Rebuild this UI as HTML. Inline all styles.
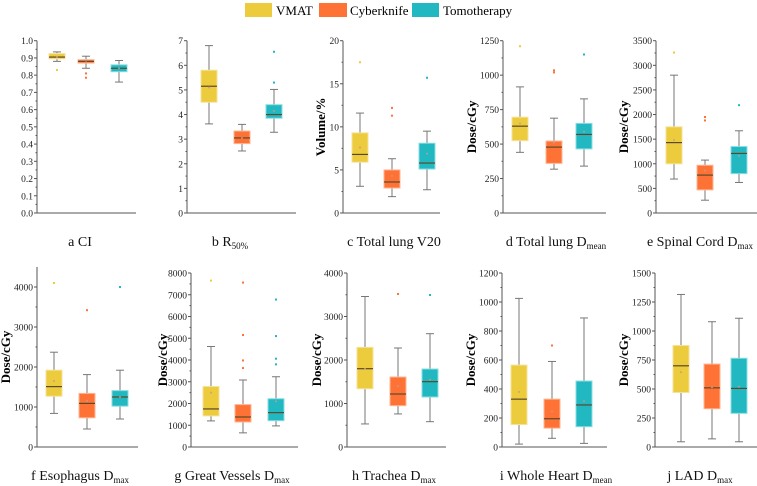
<!DOCTYPE html>
<html><head><meta charset="utf-8"><style>
html,body{margin:0;padding:0;background:#fff;}
svg{display:block;}
svg text{font-family:"Liberation Serif","Times New Roman",serif;}
</style></head><body>
<svg id="fig" width="757" height="486" viewBox="0 0 757 486" xmlns="http://www.w3.org/2000/svg" font-family="Liberation Serif, serif">
<g>
<rect x="245" y="3" width="27" height="14" fill="#ECCB3C"/>
<text x="276" y="15" font-size="13" font-family="Liberation Serif, serif">VMAT</text>
<rect x="319" y="3" width="28" height="14" fill="#FF7236"/>
<text x="350" y="15" font-size="13" font-family="Liberation Serif, serif">Cyberknife</text>
<rect x="412" y="3" width="27" height="14" fill="#22B8C2"/>
<text x="443" y="15" font-size="13" font-family="Liberation Serif, serif">Tomotherapy</text>
</g>
</svg>
<script>
// Data per panel: [q1, median, q3, whiskerLow, whiskerHigh, mean]
const vmat_a=[0.895,0.905,0.925,0.88,0.935,0.905], cyber_a=[0.87,0.88,0.89,0.84,0.91,0.875], tomo_a=[0.82,0.84,0.86,0.76,0.885,0.84];
const vmat_b=[4.5,5.15,5.8,3.62,6.8,5.1], cyber_b=[2.82,3.05,3.33,2.52,3.6,3.05], tomo_b=[3.85,4.0,4.4,3.28,5.02,4.15];
const vmat_c=[5.9,6.8,9.3,3.1,11.6,7.6], cyber_c=[2.9,3.6,5.0,1.9,6.3,4.3], tomo_c=[5.1,5.8,8.1,2.7,9.5,6.9];
const vmat_d=[525,630,695,440,915,650], cyber_d=[360,478,522,318,688,510], tomo_d=[465,570,650,340,828,590];
const vmat_e=[1000,1430,1750,690,2800,1480], cyber_e=[470,770,970,260,1075,860], tomo_e=[800,1210,1350,620,1670,1160];
const vmat_f=[1270,1510,1920,840,2370,1650], cyber_f=[730,1090,1340,450,1810,1150], tomo_f=[1020,1250,1410,700,1920,1250];
const vmat_g=[1430,1750,2780,1200,4620,2500], cyber_g=[1150,1380,1950,650,3080,2100], tomo_g=[1210,1580,2220,970,3230,2100];
const vmat_h=[1340,1800,2290,530,3460,1800], cyber_h=[950,1218,1609,760,2276,1400], tomo_h=[1149,1502,1793,582,2605,1550];
const vmat_i=[155,330,565,20,1025,380], cyber_i=[130,195,330,60,590,245], tomo_i=[140,290,455,25,890,315];
const vmat_j=[470,700,875,45,1315,645], cyber_j=[330,510,715,70,1080,515], tomo_j=[290,505,765,45,1110,520];
// Outliers
const out_a=[[0.83],[0.81,0.785],[]];
const out_b=[[],[],[5.3,6.55]];
const out_c=[[17.5],[12.2,11.3],[15.7]];
const out_d=[[1210],[1020,1035],[1150]];
const out_e=[[3260],[1880,1950],[2190]];
const out_f=[[4100],[3420],[4000]];
const out_g=[[7650],[3630,3980,5150,7560],[3800,4060,5100,6780]];
const out_h=[[],[3517],[3494]];
const out_i=[[],[700],[]];
const out_j=[[],[],[]];
// Tick labels
const ticks_a=["0.0","0.1","0.2","0.3","0.4","0.5","0.6","0.7","0.8","0.9","1.0"];
const ticks_b=["0","1","2","3","4","5","6","7"];
const ticks_c=["0","5","10","15","20"];
const ticks_d=["0","250","500","750","1000","1250"];
const ticks_e=["0","500","1000","1500","2000","2500","3000","3500"];
const ticks_f=["0","1000","2000","3000","4000"];
const ticks_g=["0","1000","2000","3000","4000","5000","6000","7000","8000"];
const ticks_h=["0","1000","2000","3000","4000"];
const ticks_i=["0","200","400","600","800","1000","1200"];
const ticks_j=["0","250","500","750","1000","1250","1500"];

const colors=["#ECCB3C","#FF7236","#22B8C2"];
const borders=["#F5E29A","#FFB593","#8ADDE2"];
const seriesNames=["vmat","cyberknife","tomotherapy"];
const NS="http://www.w3.org/2000/svg";
const FONT="Liberation Serif, serif";
const svg=document.getElementById('fig');
function mk(tag,attrs,parent){const e=document.createElementNS(NS,tag);for(const k in attrs)e.setAttribute(k,attrs[k]);if(tag==='text')e.setAttribute('font-family',FONT);(parent||svg).appendChild(e);return e;}

const panels=[
 {id:'a',series:[vmat_a,cyber_a,tomo_a],outs:out_a,ticks:ticks_a,x0:37,x1:136,cx:[57,86,119],yb:213,yt:40.7,top:40.7,ymax:1.0,ytitle:"",title:["a CI",""],tx:80,ty:246},
 {id:'b',series:[vmat_b,cyber_b,tomo_b],outs:out_b,ticks:ticks_b,x0:187,x1:296,cx:[209,242,274],yb:213,yt:40.7,top:40.7,ymax:7,ytitle:"",title:["b R","50%"],tx:230,ty:246},
 {id:'c',series:[vmat_c,cyber_c,tomo_c],outs:out_c,ticks:ticks_c,x0:343,x1:440,cx:[360,392,427],yb:213,yt:40.7,top:40.7,ymax:20,ytitle:"Volume/%",ytx:321,title:["c Total lung V20",""],tx:394,ty:246},
 {id:'d',series:[vmat_d,cyber_d,tomo_d],outs:out_d,ticks:ticks_d,x0:503,x1:606,cx:[520,554,584],yb:213,yt:40.7,top:40.7,ymax:1250,ytitle:"Dose/cGy",ytx:472,title:["d Total lung D","mean"],tx:556,ty:246},
 {id:'e',series:[vmat_e,cyber_e,tomo_e],outs:out_e,ticks:ticks_e,x0:656,x1:757,cx:[674,705,739],yb:213,yt:40.7,top:40.7,ymax:3500,ytitle:"Dose/cGy",ytx:624,title:["e Spinal Cord D","max"],tx:700,ty:246},
 {id:'f',series:[vmat_f,cyber_f,tomo_f],outs:out_f,ticks:ticks_f,x0:37,x1:138,cx:[54,87,120],yb:447,yt:287,top:267,ymax:4000,ytitle:"Dose/cGy",ytx:6,title:["f Esophagus D","max"],tx:80,ty:480},
 {id:'g',series:[vmat_g,cyber_g,tomo_g],outs:out_g,ticks:ticks_g,x0:191,x1:298,cx:[211,243,276],yb:447,yt:273,top:273,ymax:8000,ytitle:"Dose/cGy",ytx:163,title:["g Great Vessels D","max"],tx:232,ty:480},
 {id:'h',series:[vmat_h,cyber_h,tomo_h],outs:out_h,ticks:ticks_h,x0:347,x1:446,cx:[365,398,430],yb:447,yt:273,top:273,ymax:4000,ytitle:"Dose/cGy",ytx:317,title:["h Trachea D","max"],tx:394,ty:480},
 {id:'i',series:[vmat_i,cyber_i,tomo_i],outs:out_i,ticks:ticks_i,x0:502,x1:607,cx:[519,552,584],yb:447,yt:273,top:273,ymax:1200,ytitle:"Dose/cGy",ytx:471,title:["i Whole Heart D","mean"],tx:556,ty:480},
 {id:'j',series:[vmat_j,cyber_j,tomo_j],outs:out_j,ticks:ticks_j,x0:655,x1:757,cx:[681,712,739],yb:447,yt:273,top:273,ymax:1500,ytitle:"Dose/cGy",ytx:624,title:["j LAD D","max"],tx:700,ty:480}
];

panels.forEach(p=>{
  const g=mk('g',{});
  
  
  const y=v=>p.yb-(v/p.ymax)*(p.yb-p.yt);
  const axisY=mk('line',{x1:p.x0,y1:p.top,x2:p.x0,y2:p.yb,stroke:'#555','stroke-width':1},g);
  
  
  const axisX=mk('line',{x1:p.x0,y1:p.yb,x2:p.x1,y2:p.yb,stroke:'#555','stroke-width':1},g);
  
  
  const n=p.ticks.length;
  p.ticks.forEach((t,i)=>{
    const v=p.ymax*i/(n-1), yy=y(v);
    mk('line',{x1:p.x0-3,y1:yy,x2:p.x0,y2:yy,stroke:'#555','stroke-width':1},g);
    if(i<n-1){const ym=y(p.ymax*(i+0.5)/(n-1));mk('line',{x1:p.x0-1.5,y1:ym,x2:p.x0,y2:ym,stroke:'#555','stroke-width':1},g);}
    const tl=mk('text',{x:p.x0-4,y:yy+3.5,'font-size':9.5,'text-anchor':'end',fill:'#222'},g);
    tl.textContent=t;
    
    
  });
  if(p.ytitle){
    const cy=(p.yb+p.top)/2;
    const yt=mk('text',{x:0,y:0,'font-size':13,'font-weight':'bold','text-anchor':'middle',transform:`translate(${p.ytx+4},${cy}) rotate(-90)`},g);
    yt.textContent=p.ytitle;
    
    
  }
  p.series.forEach((s,k)=>{
    const cx=p.cx[k], bw=16;
    const bg=mk('g',{},g);
    
    
    mk('line',{x1:cx,y1:y(s[3]),x2:cx,y2:y(s[4]),stroke:'#777','stroke-width':1},bg);
    mk('line',{x1:cx-4,y1:y(s[3]),x2:cx+4,y2:y(s[3]),stroke:'#777','stroke-width':1},bg);
    mk('line',{x1:cx-4,y1:y(s[4]),x2:cx+4,y2:y(s[4]),stroke:'#777','stroke-width':1},bg);
    mk('rect',{x:cx-bw/2,y:y(s[2]),width:bw,height:Math.max(1,y(s[0])-y(s[2])),fill:colors[k],stroke:borders[k],'stroke-width':1},bg);
    mk('line',{x1:cx-bw/2,y1:y(s[1]),x2:cx+bw/2,y2:y(s[1]),stroke:'#5a4a2a','stroke-width':1.2},bg);
    mk('rect',{x:cx-0.8,y:y(s[5])-0.8,width:1.6,height:1.6,fill:'#c98'},bg);
    p.outs[k].forEach(o=>{
      const d=mk('rect',{x:cx-1,y:y(o)-1,width:2,height:2,fill:colors[k]},bg);
      
      
    });
  });
  const tt=mk('text',{x:p.tx,y:p.ty,'font-size':14,'text-anchor':'middle',fill:'#111'},g);
  
  
  tt.appendChild(document.createTextNode(p.title[0]));
  if(p.title[1]){const ts=document.createElementNS(NS,'tspan');ts.setAttribute('font-size','9');ts.setAttribute('dy','3');ts.textContent=p.title[1];tt.appendChild(ts);}
});
</script>
</body></html>
